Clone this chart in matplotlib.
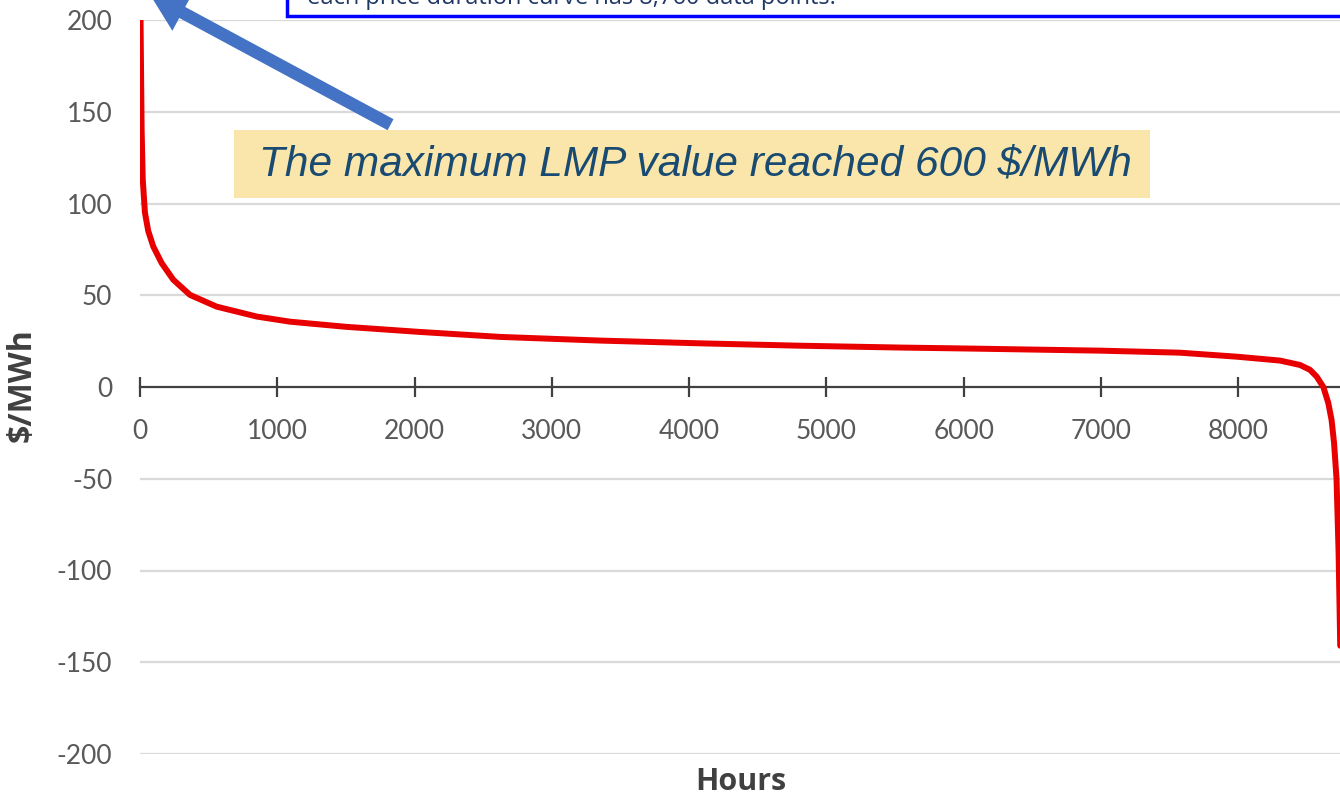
import matplotlib
matplotlib.use("Agg")
import matplotlib.pyplot as plt
from matplotlib.patches import Rectangle

W, H = 1340, 798

# price duration curve (hours sorted, $/MWh)
hours = [0, 4, 12, 20, 36, 60, 97, 158, 243, 364, 558, 850, 1092, 1500, 2040,
         2622, 3350, 4079, 4807, 5535, 6000, 7000, 7575, 7992, 8303, 8449, 8521,
         8570, 8619, 8655, 8679, 8697, 8715, 8730, 8742]
lmp = [600, 200, 140, 113, 95, 85, 76.5, 67.5, 58.4, 50.2, 43.8, 38.4, 35.6, 32.8, 30,
       27.3, 25.3, 23.8, 22.5, 21.5, 21, 19.8, 18.7, 16.5, 14.4, 12, 9.4,
       5.7, 0, -8.7, -18, -30.5, -50, -90, -141]

x_ticks = [0, 1000, 2000, 3000, 4000, 5000, 6000, 7000, 8000]
y_ticks = [-200, -150, -100, -50, 0, 50, 100, 150, 200]

note_text = "The maximum LMP value reached 600 $/MWh"
top_text = "each price duration curve has 8,760 data points."

plt.rcParams["axes.unicode_minus"] = False


def fx(px):
    return px / W


def fy(py):
    return 1 - py / H


fig = plt.figure(figsize=(W / 100, H / 100), dpi=100)
ax = fig.add_axes([fx(140), fy(754), fx(1342.7) - fx(140), fy(20) - fy(754)])

ax.plot(hours, lmp, color="#E80000", lw=4.3, solid_capstyle="round",
        solid_joinstyle="round", zorder=3)

ax.set_xlim(0, 8760)
ax.set_ylim(-200, 200)

for s in ["top", "right", "left"]:
    ax.spines[s].set_visible(False)
ax.spines["bottom"].set_position(("data", 0))
ax.spines["bottom"].set_color("#404040")
ax.spines["bottom"].set_linewidth(1.6)
ax.spines["bottom"].set_zorder(2)

ax.set_xticks(x_ticks)
ax.set_yticks(y_ticks)
ax.tick_params(axis="x", direction="inout", length=14, width=1.6, color="#404040",
               labelsize=19, labelcolor="#595959", pad=16)
ax.tick_params(axis="y", length=0, labelsize=19, labelcolor="#595959", pad=20)
for lab in ax.get_xticklabels() + ax.get_yticklabels():
    lab.set_family("Lato")

for v in y_ticks:
    if v != 0:
        ax.axhline(v, color="#D9D9D9", lw=1.6, zorder=1)

fig.text(fx(22), fy(385), "$/MWh", rotation=90, ha="center", va="center",
         fontsize=23, fontweight="bold", color="#404040", family="Open Sans")
fig.text(fx(741), fy(782), "Hours", ha="center", va="center",
         fontsize=22, fontweight="bold", color="#404040", family="Open Sans")

# yellow note
fig.add_artist(Rectangle((fx(234), fy(198)), fx(1150) - fx(234), fy(130) - fy(198),
                         transform=fig.transFigure, facecolor="#FAE6AA",
                         edgecolor="none", zorder=4))
fig.text(fx(695), fy(164), note_text, ha="center", va="center", fontsize=30.5,
         style="italic", color="#194B72", family="Liberation Sans", zorder=5)

# cut-off text box at the top
fig.add_artist(Rectangle((fx(287), fy(16)), fx(1400) - fx(287), 0.2,
                         transform=fig.transFigure, facecolor="white",
                         edgecolor="#0000FF", lw=2.5, zorder=4))
fig.text(fx(307), fy(4), top_text, ha="left", va="baseline", fontsize=17,
         color="#1F3864", family="Open Sans", zorder=5)

# blue arrow pointing at the clipped peak
ax.annotate("", xy=(148, H + 6), xycoords="figure pixels",
            xytext=(393, H - 126), textcoords="figure pixels",
            arrowprops=dict(arrowstyle="simple,head_width=3.0,head_length=2.6,tail_width=0.9",
                            mutation_scale=10, color="#4472C4", lw=0),
            annotation_clip=False, zorder=6)

fig.savefig("out.png", dpi=100)
